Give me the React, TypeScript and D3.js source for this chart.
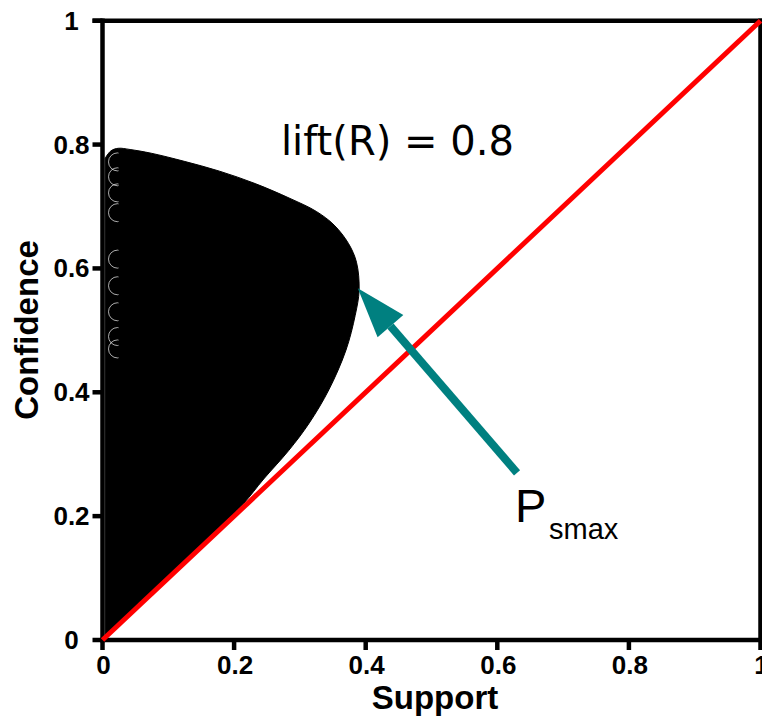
import React from "react";
import * as d3 from "d3";

// Axis ticks
const xTicks = [0, 0.2, 0.4, 0.6, 0.8, 1];
const yTicks = [0, 0.2, 0.4, 0.6, 0.8, 1];
const xTickLabels = ["0", "0.2", "0.4", "0.6", "0.8", "1"];
const yTickLabels = ["0", "0.2", "0.4", "0.6", "0.8", "1"];

// Outline of the dense black scatter cloud (support, confidence)
const cloudSupport = [0.004, 0.195, 0.215, 0.245, 0.283, 0.314, 0.344, 0.370, 0.384, 0.390, 0.386, 0.374, 0.352, 0.325, 0.285, 0.232, 0.178, 0.124, 0.074, 0.042, 0.024, 0.013, 0.004];
const cloudConfidence = [0.004, 0.200, 0.221, 0.260, 0.306, 0.350, 0.404, 0.468, 0.524, 0.565, 0.610, 0.640, 0.670, 0.692, 0.713, 0.737, 0.757, 0.773, 0.786, 0.792, 0.794, 0.790, 0.778];

// Marker outlines visible at the left edge of the cloud (confidence of marker centres)
const edgeMarkerConfidence = [0.772, 0.748, 0.722, 0.690, 0.615, 0.572, 0.530, 0.490, 0.470];

// Red reference line (support = confidence)
const diagSupport = [0, 1];
const diagConfidence = [0, 1];

// Arrow pointing at P_smax
const arrowFrom = { s: 0.630, c: 0.270 };
const arrowTo = { s: 0.388, c: 0.568 };

export default function App() {
  const W = 762, H = 717;
  const x = d3.scaleLinear().domain([0, 1]).range([102.5, 760.5]);
  const y = d3.scaleLinear().domain([0, 1]).range([640, 20.7]);

  const cloudPts: [number, number][] = cloudSupport.map((s, i) => [x(s), y(cloudConfidence[i])]);
  const cloudPath = d3.line().curve(d3.curveCatmullRom.alpha(0.5))(cloudPts) + "Z";

  const diagPath = d3.line()(diagSupport.map((s, i) => [x(s), y(diagConfidence[i])]) as [number, number][]);

  // arrow geometry
  const tx = x(arrowTo.s), ty = y(arrowTo.c);
  const fx = x(arrowFrom.s), fy = y(arrowFrom.c);
  const dx = tx - fx, dy = ty - fy;
  const len = Math.hypot(dx, dy);
  const ux = dx / len, uy = dy / len;
  const headLen = 50, headHalf = 17;
  const bx = tx - ux * headLen, by = ty - uy * headLen;
  const px = -uy, py = ux;
  const head = `M${tx},${ty}L${bx + px * headHalf},${by + py * headHalf}L${bx - px * headHalf},${by - py * headHalf}Z`;

  const tickFont = "'Liberation Sans', Arial, sans-serif";
  const axisW = 4.5;
  const teal = "#008080";

  return (
    <svg width={W} height={H} style={{ position: "absolute", left: 0, top: 0, background: "#fff" }}>
      <defs>
        <clipPath id="edgeClip">
          <rect x={x(0) + 2} y={0} width={14} height={H} />
        </clipPath>
      </defs>
      <rect x={0} y={0} width={W} height={H} fill="#fff" />
      {/* cloud */}
      <path d={cloudPath} fill="#000" stroke="#000" strokeWidth={1} />
      <g clipPath="url(#edgeClip)">
        {edgeMarkerConfidence.map((c, i) => (
          <circle key={"m" + i} cx={x(0) + 15} cy={y(c)} r={9} fill="none" stroke="#fff" strokeWidth={0.8} strokeOpacity={0.85} />
        ))}
      </g>
      {/* frame */}
      <line x1={x(0)} x2={x(0)} y1={y(1) - axisW / 2} y2={y(0) + axisW / 2} stroke="#000" strokeWidth={axisW} />
      <line x1={x(0) - axisW / 2} x2={x(1) + axisW / 2} y1={y(0)} y2={y(0)} stroke="#000" strokeWidth={axisW} />
      <line x1={x(0) - 10} x2={x(1) + axisW / 2} y1={y(1)} y2={y(1)} stroke="#000" strokeWidth={axisW} />
      <line x1={x(1)} x2={x(1)} y1={y(1) - axisW / 2} y2={y(0)} stroke="#000" strokeWidth={axisW} />
      {/* y ticks */}
      {yTicks.map((t, i) => (
        <g key={"y" + i}>
          <line x1={x(0) - 10} x2={x(0)} y1={y(t)} y2={y(t)} stroke="#000" strokeWidth={axisW} />
          <text x={71.5} y={y(t) + 9} textAnchor="middle" fontFamily={tickFont} fontWeight="bold" fontSize={26}>
            {yTickLabels[i]}
          </text>
        </g>
      ))}
      {/* x ticks */}
      {xTicks.map((t, i) => (
        <g key={"x" + i}>
          <line x1={x(t)} x2={x(t)} y1={y(0)} y2={y(0) + 10} stroke="#000" strokeWidth={axisW} />
          <text x={x(t) + 1} y={674} textAnchor="middle" fontFamily={tickFont} fontWeight="bold" fontSize={26}>
            {xTickLabels[i]}
          </text>
        </g>
      ))}
      {/* red diagonal */}
      <path d={diagPath || ""} stroke="#ff0000" strokeWidth={5} fill="none" />
      {/* arrow */}
      <line x1={fx} y1={fy} x2={bx} y2={by} stroke={teal} strokeWidth={8} />
      <path d={head} fill={teal} />
      {/* axis titles */}
      <text x={435} y={709} textAnchor="middle" fontFamily={tickFont} fontWeight="bold" fontSize={33}>Support</text>
      <text transform="translate(38,330) rotate(-90)" textAnchor="middle" fontFamily={tickFont} fontWeight="bold" fontSize={33}>Confidence</text>
      {/* annotations */}
      <text x={281} y={155} fontFamily="'DejaVu Sans', Verdana, sans-serif" fontSize={40}>lift(R) = 0.8</text>
      <text x={515} y={522} fontFamily={tickFont} fontSize={47}>P</text>
      <text x={549} y={539} fontFamily={tickFont} fontSize={29}>smax</text>
    </svg>
  );
}
